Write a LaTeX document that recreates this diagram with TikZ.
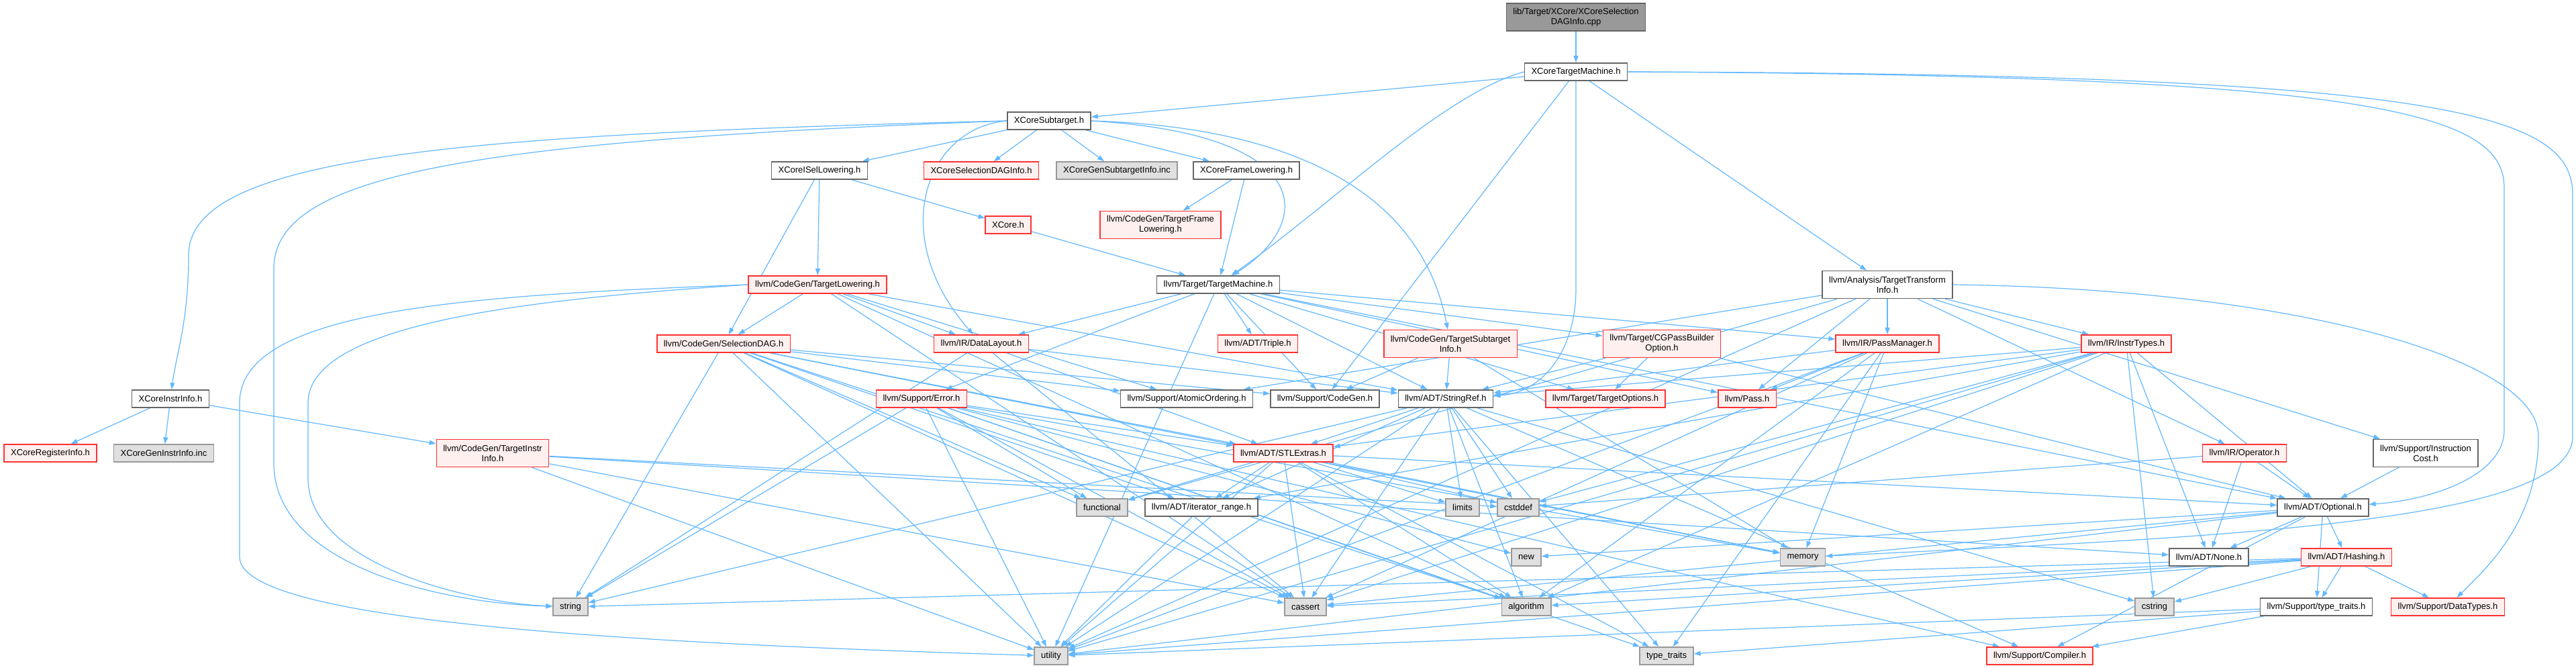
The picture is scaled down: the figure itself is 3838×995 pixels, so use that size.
\documentclass[tikz,border=0pt]{standalone}
\usepackage{fontspec}
\setmainfont{Liberation Sans}
\usepackage{xcolor}
\usepackage{tikz}
\usetikzlibrary{arrows.meta, positioning, backgrounds}
\definecolor{edgeblue}{RGB}{99,184,255}
\definecolor{boxgray}{RGB}{102,102,102}
\definecolor{sysgray}{RGB}{153,153,153}
\definecolor{sysfill}{RGB}{224,224,224}
\definecolor{truncred}{RGB}{255,50,50}
\definecolor{truncfill}{RGB}{255,240,240}
\definecolor{rootfill}{RGB}{153,153,153}
\tikzset{
  header/.style={
    rectangle, draw=boxgray, fill=white, line width=1.5pt,
    minimum height=26pt, inner xsep=10pt, inner ysep=7pt,
    font=\fontsize{13}{15}\selectfont, align=center, text=black
  },
  truncated/.style={header, draw=truncred, fill=truncfill},
  sysheader/.style={header, draw=sysgray, fill=sysfill},
  rootfile/.style={header, fill=rootfill},
  twoline/.style={minimum height=41pt},
  incl/.style={-{Triangle[length=10pt,width=7pt]}, line width=1.2pt, color=edgeblue}
}
\begin{document}
\begin{tikzpicture}[x=1pt, y=-1pt]
  \useasboundingbox (0,0) rectangle (3838,995);

  \node[rootfile, twoline] (root) at (2348,25.5) {lib/Target/XCore/XCoreSelection\\DAGInfo.cpp};
  \node[header] (xctm) at (2348,107) {XCoreTargetMachine.h};
  \node[header] (xsub) at (1563,180) {XCoreSubtarget.h};
  \node[header] (xisel) at (1221,254) {XCoreISelLowering.h};
  \node[truncated] (xsdag) at (1462,254) {XCoreSelectionDAGInfo.h};
  \node[sysheader] (xgensub) at (1664,254) {XCoreGenSubtargetInfo.inc};
  \node[header] (xframe) at (1857,254) {XCoreFrameLowering.h};
  \node[truncated] (xcore) at (1502,335) {XCore.h};
  \node[truncated, twoline] (tfl) at (1729,335) {llvm/CodeGen/TargetFrame\\Lowering.h};
  \node[truncated] (tlow) at (1218,424) {llvm/CodeGen/TargetLowering.h};
  \node[header] (tm) at (1815,424) {llvm/Target/TargetMachine.h};
  \node[header, twoline] (tti) at (2812,424) {llvm/Analysis/TargetTransform\\Info.h};
  \node[truncated] (sdag) at (1078,512) {llvm/CodeGen/SelectionDAG.h};
  \node[truncated] (dl) at (1462,512) {llvm/IR/DataLayout.h};
  \node[truncated] (triple) at (1874,512) {llvm/ADT/Triple.h};
  \node[truncated, twoline] (tsi) at (2161,512) {llvm/CodeGen/TargetSubtarget\\Info.h};
  \node[truncated, twoline] (cgpb) at (2476,512) {llvm/Target/CGPassBuilder\\Option.h};
  \node[truncated] (pm) at (2812,512) {llvm/IR/PassManager.h};
  \node[truncated] (instr) at (3168,512) {llvm/IR/InstrTypes.h};
  \node[header] (xinstr) at (254,594) {XCoreInstrInfo.h};
  \node[truncated] (err) at (1373,594) {llvm/Support/Error.h};
  \node[header] (atomic) at (1768,594) {llvm/Support/AtomicOrdering.h};
  \node[header] (cg) at (1974,594) {llvm/Support/CodeGen.h};
  \node[header] (sref) at (2154,594) {llvm/ADT/StringRef.h};
  \node[truncated] (topt) at (2392,594) {llvm/Target/TargetOptions.h};
  \node[truncated] (pass) at (2603,594) {llvm/Pass.h};
  \node[truncated] (xreg) at (75,675) {XCoreRegisterInfo.h};
  \node[sysheader] (xgeninstr) at (244,675) {XCoreGenInstrInfo.inc};
  \node[truncated, twoline] (tii) at (734,675) {llvm/CodeGen/TargetInstr\\Info.h};
  \node[truncated] (stl) at (1912,675) {llvm/ADT/STLExtras.h};
  \node[truncated] (oper) at (3344,675) {llvm/IR/Operator.h};
  \node[header, twoline] (icost) at (3614,675) {llvm/Support/Instruction\\Cost.h};
  \node[sysheader] (func) at (1642,756) {functional};
  \node[header] (iter) at (1790,756) {llvm/ADT/iterator\_range.h};
  \node[sysheader] (limits) at (2179,756) {limits};
  \node[sysheader] (cstddef) at (2262,756) {cstddef};
  \node[header] (opt) at (3461,756) {llvm/ADT/Optional.h};
  \node[sysheader] (new) at (2274,830) {new};
  \node[sysheader] (mem) at (2686,830) {memory};
  \node[header] (none) at (3291,830) {llvm/ADT/None.h};
  \node[truncated] (hash) at (3496,830) {llvm/ADT/Hashing.h};
  \node[sysheader] (string) at (850,904) {string};
  \node[sysheader] (cassert) at (1945,904) {cassert};
  \node[sysheader] (algo) at (2274,904) {algorithm};
  \node[sysheader] (cstring) at (3210,904) {cstring};
  \node[header] (tth) at (3451,904) {llvm/Support/type\_traits.h};
  \node[truncated] (dtypes) at (3647,904) {llvm/Support/DataTypes.h};
  \node[sysheader] (utility) at (1566,977) {utility};
  \node[sysheader] (ttraits) at (2483,977) {type\_traits};
  \node[truncated] (compiler) at (3039,977) {llvm/Support/Compiler.h};

  \begin{scope}[on background layer]
  \fill[white] (0,0) rectangle (3838,995);

  \draw[incl] (root) -- (xctm);
  \draw[incl] (xctm) -- (xsub);
  \draw[incl] (xctm.west) .. controls (2150,140) and (1990,300) .. (tm);
  \draw[incl] (xctm) -- (tti);
  \draw[incl] (xctm) -- (cg);
  \draw[incl] (xctm.south) -- (2348,430) .. controls (2348,520) and (2300,585) .. (sref);
  \draw[incl] (xctm.east) .. controls (3550,112) and (3731,170) .. (3731,280) -- (3731,640) .. controls (3731,710) and (3620,745) .. (opt);
  \draw[incl] (xctm.east) .. controls (3650,110) and (3833,170) .. (3833,290) -- (3833,650) .. controls (3833,780) and (3300,800) .. (mem);

  \draw[incl] (xsub) -- (xisel);
  \draw[incl] (xsub) -- (xsdag);
  \draw[incl] (xsub) -- (xgensub);
  \draw[incl] (xsub) -- (xframe);
  \draw[incl] (xsub.west) .. controls (700,200) and (281,230) .. (281,380) .. controls (281,480) and (262,530) .. (xinstr);
  \draw[incl] (xsub.west) .. controls (700,210) and (408,260) .. (408,400) -- (408,690) .. controls (408,840) and (650,898) .. (string);
  \draw[incl] (xsub.east) .. controls (1950,190) and (2120,300) .. (tsi);
  \draw[incl] (xsub.east) .. controls (1960,200) and (1960,330) .. (tm);
  \draw[incl] (xsub.west) .. controls (1380,190) and (1320,350) .. (dl);

  \draw[incl] (xisel) -- (xcore);
  \draw[incl] (xisel) -- (tlow);
  \draw[incl] (xisel) -- (sdag);
  \draw[incl] (xframe) -- (tfl);
  \draw[incl] (xframe) -- (tm);
  \draw[incl] (xcore) -- (tm);
  \draw[incl] (xinstr) -- (xreg);
  \draw[incl] (xinstr) -- (xgeninstr);
  \draw[incl] (xinstr) -- (tii);

  \draw[incl] (tii) -- (none);
  \draw[incl] (tii) -- (cstddef);
  \draw[incl] (tii) -- (cassert);
  \draw[incl] (tii) -- (utility);

  \draw[incl] (tlow) -- (sdag);
  \draw[incl] (tlow) -- (dl);
  \draw[incl] (tlow) -- (atomic);
  \draw[incl] (tlow) -- (sref);
  \draw[incl] (tlow) -- (cassert);
  \draw[incl] (tlow) -- (algo);
  \draw[incl] (tlow.west) .. controls (800,445) and (459,480) .. (459,600) -- (459,713) .. controls (459,840) and (700,898) .. (string);
  \draw[incl] (tlow.west) .. controls (700,440) and (357,460) .. (357,600) -- (357,830) .. controls (357,930) and (1000,960) .. (utility);

  \draw[incl] (tm) -- (triple);
  \draw[incl] (tm) -- (dl);
  \draw[incl] (tm) -- (pm);
  \draw[incl] (tm) -- (cgpb);
  \draw[incl] (tm) -- (topt);
  \draw[incl] (tm) -- (err);
  \draw[incl] (tm) -- (cg);
  \draw[incl] (tm) -- (sref);
  \draw[incl] (tm) -- (opt);
  \draw[incl] (tm) -- (pass);
  \draw[incl] (tm) -- (utility);

  \draw[incl] (tti) -- (instr);
  \draw[incl] (tti) -- (pm);
  \draw[incl] (tti) -- (pass);
  \draw[incl] (tti) -- (atomic);
  \draw[incl] (tti) -- (icost);
  \draw[incl] (tti) -- (oper);
  \draw[incl] (tti) -- (func);
  \draw[incl] (tti) -- (utility);
  \draw[incl] (tti.east) .. controls (3400,430) and (3782,530) .. (3782,650) .. controls (3782,780) and (3700,850) .. (dtypes);

  \draw[incl] (sdag) -- (stl);
  \draw[incl] (sdag) -- (iter);
  \draw[incl] (sdag) -- (atomic);
  \draw[incl] (sdag) -- (cg);
  \draw[incl] (sdag) -- (func);
  \draw[incl] (sdag) -- (cassert);
  \draw[incl] (sdag) -- (algo);
  \draw[incl] (sdag) -- (string);
  \draw[incl] (sdag) -- (utility);
  \draw[incl] (sdag) -- (mem);

  \draw[incl] (dl) -- (stl);
  \draw[incl] (dl) -- (sref);
  \draw[incl] (dl) -- (cassert);
  \draw[incl] (dl) -- (string);

  \draw[incl] (tsi) -- (cg);
  \draw[incl] (tsi) -- (sref);
  \draw[incl] (tsi) -- (mem);
  \draw[incl] (cgpb) -- (topt);
  \draw[incl] (cgpb) -- (sref);
  \draw[incl] (cgpb) -- (opt);

  \draw[incl] (pm) -- (sref);
  \draw[incl] (pm) -- (pass);
  \draw[incl] (pm) -- (mem);
  \draw[incl] (pm) -- (cassert);
  \draw[incl] (pm) -- (ttraits);
  \draw[incl] (pm) -- (utility);
  \draw[incl] (pm) -- (algo);

  \draw[incl] (instr) -- (opt);
  \draw[incl] (instr) -- (none);
  \draw[incl] (instr) -- (stl);
  \draw[incl] (instr) -- (iter);
  \draw[incl] (instr) -- (sref);
  \draw[incl] (instr) -- (algo);
  \draw[incl] (instr) -- (cassert);
  \draw[incl] (instr) -- (cstddef);
  \draw[incl] (instr) -- (cstring);
  \draw[incl] (instr) -- (utility);

  \draw[incl] (err) -- (stl);
  \draw[incl] (err) -- (compiler);
  \draw[incl] (err) -- (cassert);
  \draw[incl] (err) -- (func);
  \draw[incl] (err) -- (mem);
  \draw[incl] (err) -- (new);
  \draw[incl] (err) -- (string);
  \draw[incl] (err) -- (ttraits);
  \draw[incl] (err) -- (utility);
  \draw[incl] (err) -- (algo);

  \draw[incl] (stl) -- (iter);
  \draw[incl] (stl) -- (func);
  \draw[incl] (stl) -- (limits);
  \draw[incl] (stl) -- (cstddef);
  \draw[incl] (stl) -- (cassert);
  \draw[incl] (stl) -- (algo);
  \draw[incl] (stl) -- (ttraits);
  \draw[incl] (stl) -- (utility);
  \draw[incl] (stl) -- (mem);
  \draw[incl] (stl) -- (opt);

  \draw[incl] (sref) -- (stl);
  \draw[incl] (sref) -- (iter);
  \draw[incl] (sref) -- (compiler);
  \draw[incl] (sref) -- (algo);
  \draw[incl] (sref) -- (cassert);
  \draw[incl] (sref) -- (cstddef);
  \draw[incl] (sref) -- (cstring);
  \draw[incl] (sref) -- (limits);
  \draw[incl] (sref) -- (string);
  \draw[incl] (sref) -- (ttraits);
  \draw[incl] (sref) -- (utility);

  \draw[incl] (iter) -- (utility);
  \draw[incl] (oper) -- (opt);
  \draw[incl] (oper) -- (none);
  \draw[incl] (oper) -- (cstddef);
  \draw[incl] (icost) -- (opt);

  \draw[incl] (opt) -- (hash);
  \draw[incl] (opt) -- (none);
  \draw[incl] (opt) -- (tth);
  \draw[incl] (opt) -- (compiler);
  \draw[incl] (opt) -- (cassert);
  \draw[incl] (opt) -- (new);
  \draw[incl] (opt) -- (utility);

  \draw[incl] (hash) -- (dtypes);
  \draw[incl] (hash) -- (tth);
  \draw[incl] (hash) -- (algo);
  \draw[incl] (hash) -- (cassert);
  \draw[incl] (hash) -- (cstring);
  \draw[incl] (hash) -- (string);
  \draw[incl] (hash) -- (utility);

  \draw[incl] (tth) -- (ttraits);
  \draw[incl] (tth) -- (utility);
  \draw[incl] (tth) -- (compiler);
  \end{scope}
\end{tikzpicture}
\end{document}
